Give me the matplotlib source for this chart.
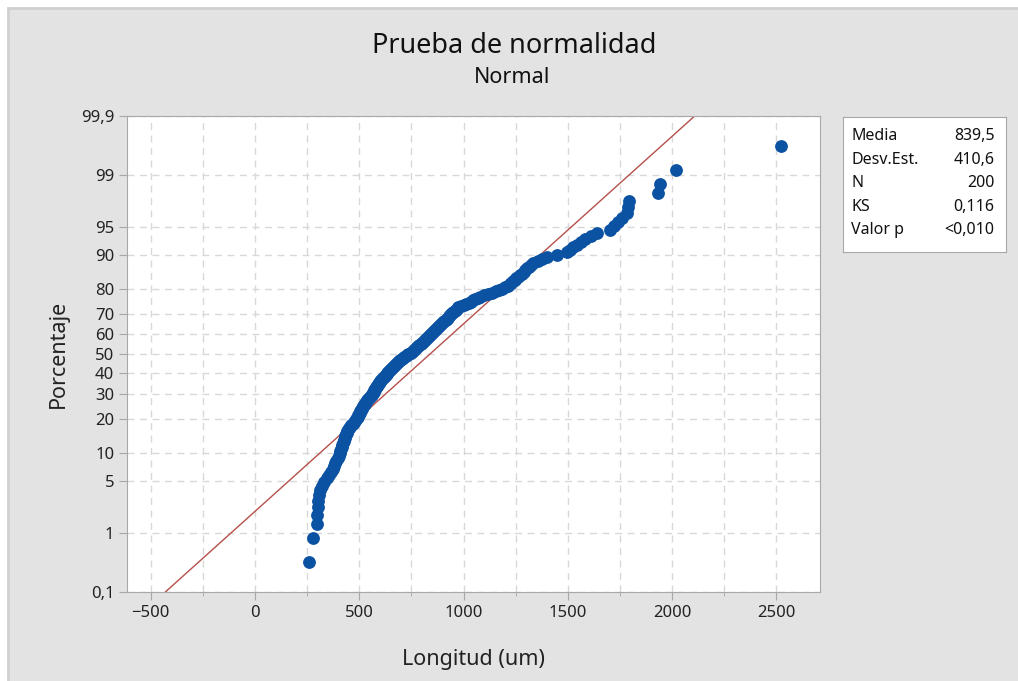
import matplotlib
matplotlib.use('Agg')
import numpy as np
import matplotlib.pyplot as plt
from matplotlib.patches import Rectangle
from matplotlib.ticker import MultipleLocator, FixedLocator
from statistics import NormalDist

plt.rcParams['font.family'] = ['Noto Sans', 'DejaVu Sans']

# sorted lengths (um), n = 200
longitud = [
    258, 278, 296, 298, 301, 304, 308, 313, 320, 333, 346, 356, 364,
    372, 379, 385, 391, 396, 402, 407,
    410, 413, 416, 419, 422, 425, 428, 431, 434, 437, 440, 442, 445,
    451, 457, 463, 469, 475, 481, 487,
    490, 493, 496, 499, 502, 505, 508, 511, 514, 518,
    522, 526, 530, 534, 539, 543, 547, 551, 556, 560,
    563, 566, 569, 572, 576, 579, 582, 585, 589, 592, 595, 598, 602, 605,
    609, 614, 618, 622, 627, 631, 635, 640, 644, 649, 653, 657, 661, 666, 670, 675, 679,
    685, 691, 697, 703, 709, 716, 722, 728, 734, 740, 747, 753, 759,
    764, 769, 774, 779, 784, 789, 794, 799, 804, 809, 814, 819, 824, 829, 834, 839,
    844, 849, 854, 859, 864, 869, 874, 879, 884, 889, 894, 898, 903,
    908, 914, 919, 925, 930, 936, 941, 947, 952, 958, 963, 969, 975,
    988, 1000, 1012, 1024, 1035, 1046, 1057, 1068, 1079,
    1098, 1118, 1138, 1158,
    1172, 1186, 1200, 1211, 1222,
    1230, 1238, 1246, 1254, 1262, 1270,
    1279, 1288, 1297, 1306, 1315, 1325, 1334,
    1355, 1376, 1398,
    1446, 1494, 1510, 1526,
    1545, 1563, 1582, 1610, 1638,
    1700, 1720, 1740, 1760, 1782, 1790, 1792,
    1934, 1942, 2018, 2520,
]

media = 839.5
desv_est = 410.6
stats_labels = ['Media', 'Desv.Est.', 'N', 'KS', 'Valor p']
stats_values = ['839,5', '410,6', '200', '0,116', '<0,010']

pct_ticks = [0.1, 1, 5, 10, 20, 30, 40, 50, 60, 70, 80, 90, 95, 99, 99.9]
pct_labels = ['0,1', '1', '5', '10', '20', '30', '40', '50', '60', '70', '80', '90', '95', '99', '99,9']

nd = NormalDist()
n = len(longitud)
# median ranks (Minitab default)
z = [nd.inv_cdf((i - 0.3) / (n + 0.4)) for i in range(1, n + 1)]

W, H = 1018, 681
fig = plt.figure(figsize=(W / 100, H / 100), dpi=100)
fig.patch.set_facecolor('white')
# grey panel, darker edge only on top/left (rest runs off the picture)
fig.patches.append(Rectangle((8 / W, -0.1), 1.2, 1.1 - 8 / H, transform=fig.transFigure,
                             facecolor='#e3e3e3', edgecolor='#d0d0d0', lw=2, zorder=-10))

ax = fig.add_axes([0.1252, 0.1307, 0.6803, 0.699])
ax.set_facecolor('white')

zlo, zhi = nd.inv_cdf(0.001), nd.inv_cdf(0.999)

# fitted line
ax.plot([media + desv_est * zlo, media + desv_est * zhi], [zlo, zhi],
        color='#b5504b', lw=1.0, zorder=2)
ax.plot(longitud, z, 'o', color='#0b52a3', ms=8.2, mec='#0b52a3', zorder=3)

ax.set_xlim(-611, 2709)
ax.set_ylim(zlo, zhi)

ax.xaxis.set_major_locator(MultipleLocator(500))
ax.xaxis.set_minor_locator(MultipleLocator(250))
ax.yaxis.set_major_locator(FixedLocator([nd.inv_cdf(p / 100) for p in pct_ticks]))
ax.set_yticklabels(pct_labels)

ax.grid(True, which='both', axis='x', color='#d8d8d8', ls=(0, (5, 4)), lw=1)
ax.grid(True, which='major', axis='y', color='#d8d8d8', ls=(0, (5, 4)), lw=1)
ax.set_axisbelow(True)

for s in ax.spines.values():
    s.set_color('#a8a8a8')
ax.tick_params(which='major', length=6, color='#a8a8a8', labelsize=12, labelcolor='#222222')
ax.tick_params(which='minor', length=3, color='#a8a8a8')

ax.set_xlabel('Longitud (um)', fontsize=15.5, color='#222222', labelpad=20)
ax.set_ylabel('Porcentaje', fontsize=15.5, color='#222222', labelpad=9)

fig.text(0.505, 0.932, 'Prueba de normalidad', ha='center', va='center', fontsize=19.5, color='#111111')
fig.text(0.503, 0.886, 'Normal', ha='center', va='center', fontsize=15.5, color='#111111')

# stats box
bx = fig.add_axes([0.828, 0.630, 0.160, 0.198])
bx.set_xlim(0, 1)
bx.set_ylim(0, 1)
bx.set_xticks([])
bx.set_yticks([])
for s in bx.spines.values():
    s.set_color('#a8a8a8')
for k, (lab, val) in enumerate(zip(stats_labels, stats_values)):
    yy = 0.86 - k * 0.175
    bx.text(0.05, yy, lab, ha='left', va='center', fontsize=11.5, color='#111111')
    bx.text(0.93, yy, val, ha='right', va='center', fontsize=11.5, color='#111111')

fig.savefig('out.png', dpi=100, facecolor=fig.get_facecolor())
